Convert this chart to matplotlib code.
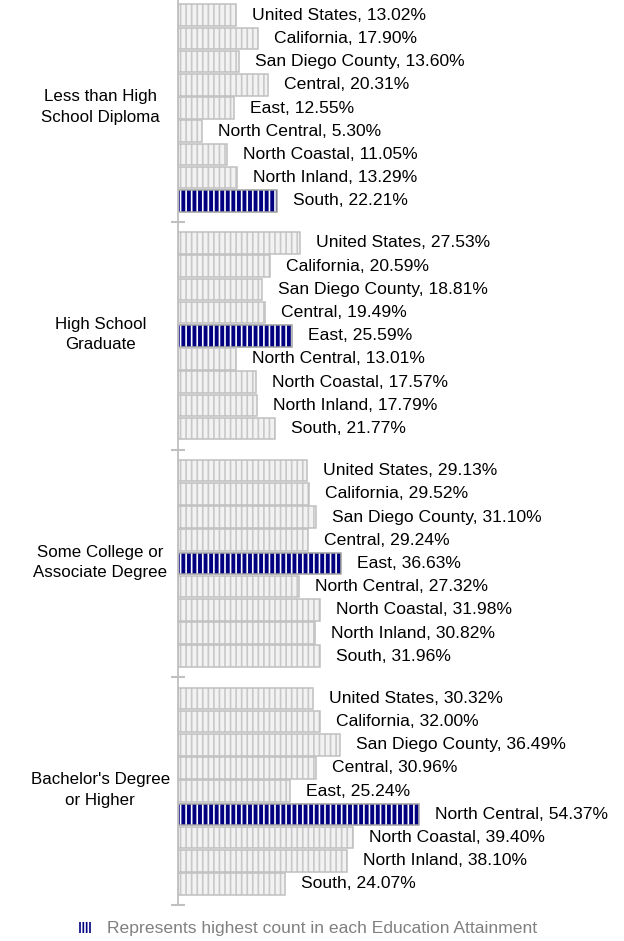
import matplotlib
matplotlib.use('Agg')
import matplotlib.pyplot as plt
from matplotlib.patches import Patch
import numpy as np

plt.rcParams['font.family'] = ['Liberation Sans', 'DejaVu Sans']
plt.rcParams['hatch.linewidth'] = 1.2

# education attainment groups and regions
categories = ["Less than High\nSchool Diploma", "High School\nGraduate",
              "Some College or\nAssociate Degree", "Bachelor's Degree\nor Higher"]
regions = ["United States", "California", "San Diego County", "Central", "East",
           "North Central", "North Coastal", "North Inland", "South"]

less_hs = [13.02, 17.90, 13.60, 20.31, 12.55, 5.30, 11.05, 13.29, 22.21]
hs_grad = [27.53, 20.59, 18.81, 19.49, 25.59, 13.01, 17.57, 17.79, 21.77]
some_college = [29.13, 29.52, 31.10, 29.24, 36.63, 27.32, 31.98, 30.82, 31.96]
bachelors = [30.32, 32.00, 36.49, 30.96, 25.24, 54.37, 39.40, 38.10, 24.07]

series = [less_hs, hs_grad, some_college, bachelors]

W, H = 624, 941
fig = plt.figure(figsize=(W / 100., H / 100.), dpi=100)

x0 = 178.3
top_px, bot_px = -5.8, 905.0
ax = fig.add_axes([x0 / W, 1 - bot_px / H, 1 - x0 / W, (bot_px - top_px) / H])

group_pitch = 9.815
nreg = len(regions)
gap = (group_pitch - (nreg - 1)) / 2.0

GRAY_FILL = '#f2f2f2'
GRAY_HATCH = '#c8c8c8'
GRAY_EDGE = '#c0c0c0'
NAVY = '#000080'

for g, vals in enumerate(series):
    vals = np.array(vals)
    # highest among the sub-regional areas
    best = 3 + int(np.argmax(vals[3:]))
    ys = g * group_pitch + np.arange(nreg)
    for j, (y, v) in enumerate(zip(ys, vals)):
        if j == best:
            fc, hc, ec = NAVY, 'white', '#a0a0a0'
        else:
            fc, hc, ec = GRAY_FILL, GRAY_HATCH, GRAY_EDGE
        ax.barh(y, v, height=0.93, color=fc, edgecolor=hc, hatch='|||', linewidth=0)
        ax.barh(y, v, height=0.93, fill=False, edgecolor=ec, linewidth=1.1)
        ax.annotate('%s, %.2f%%' % (regions[j], v), xy=(v, y), xytext=(11.5, 0),
                    textcoords='offset points', ha='left', va='center',
                    fontsize=12.6, color='black')
    # category label
    ax.text(-78 / 4.433, g * group_pitch + (nreg - 1) / 2.0 - 0.05, categories[g],
            ha='center', va='center', fontsize=12.2, color='black', linespacing=1.45)

ax.set_xlim(0, (W - x0) / 4.433)
ax.set_ylim(3 * group_pitch + (nreg - 1) + gap, -gap)

for s in ['top', 'right', 'bottom']:
    ax.spines[s].set_visible(False)
ax.spines['left'].set_color('#bfbfbf')
ax.spines['left'].set_linewidth(1.3)
ax.set_xticks([])
ax.set_yticks([g * group_pitch + (nreg - 1) + gap for g in range(len(series))])
ax.set_yticklabels([])
ax.tick_params(axis='y', direction='inout', length=10, width=1.5, color='#c0c0c0')

handle = Patch(facecolor=NAVY, edgecolor='white', hatch='|||||', linewidth=0)
fig.legend([handle], ['Represents highest count in each Education Attainment'],
           loc='center left', bbox_to_anchor=(78 / W, 1 - 929 / H), frameon=False,
           fontsize=12.6, labelcolor='#808080', handlelength=0.75, handleheight=0.65,
           handletextpad=0.9, borderpad=0, borderaxespad=0)

fig.savefig('out.png', dpi=100)
